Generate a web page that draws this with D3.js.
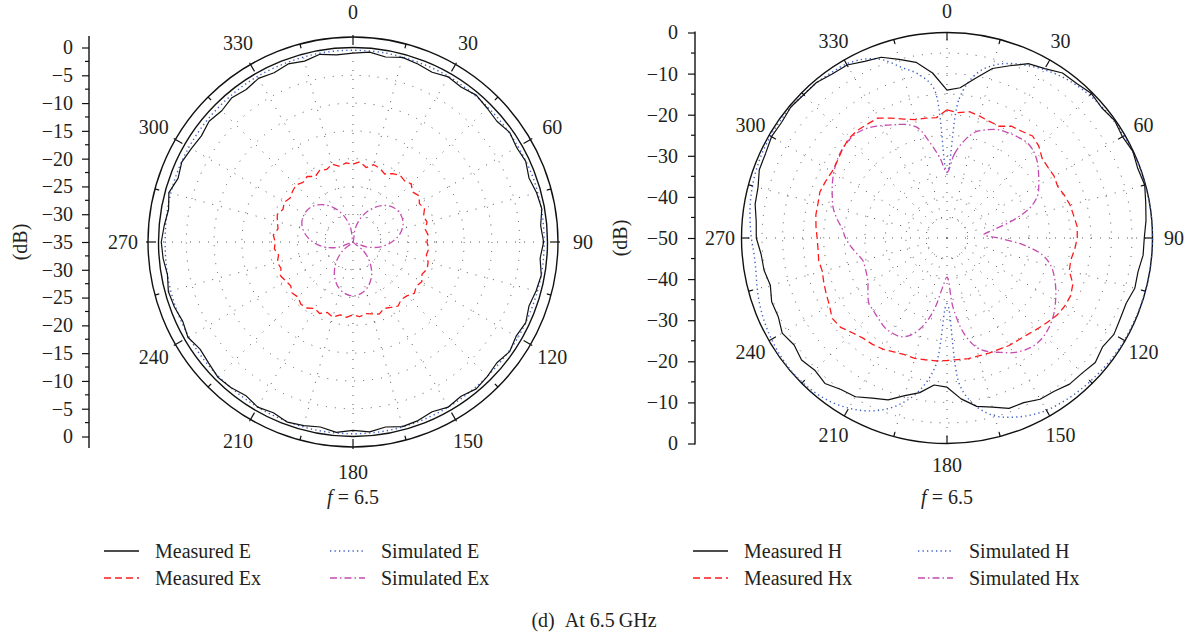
<!DOCTYPE html>
<html>
<head>
<meta charset="utf-8">
<script src="https://cdn.jsdelivr.net/npm/d3@7"></script>
<style>
  body { margin: 0; background: #fff; }
  svg { display: block; }
  text { font-family: "Liberation Serif", "Times New Roman", serif; fill: #231f20; }
</style>
</head>
<body>
<svg id="chart" width="1188" height="633"></svg>
<script>
// ---- angle labels (degrees, clockwise from top) ----
const angleLabels = [0, 30, 60, 90, 120, 150, 180, 210, 240, 270, 300, 330];

// ---- radial (dB) tick labels ----
const eTicks = [0, -5, -10, -15, -20, -25, -30, -35];
const hTicks = [0, -10, -20, -30, -40, -50];

// ---- E-plane, 6.5 GHz (dB) ----
// measured: one sample every 5 degrees
const measuredE = [
  -1.0, -0.7, -1.2, -0.6, -0.9, -1.3, -0.7, -1.0, -0.5, -0.9, -1.2, -0.6,
  -1.0, -0.7, -1.3, -0.8, -0.5, -1.1, -0.7, -1.2, -0.6, -0.9, -1.3, -0.7,
  -1.1, -0.6, -1.2, -0.8, -0.5, -1.1, -0.7, -1.3, -0.8, -0.6, -1.2, -0.7,
  -1.1, -0.6, -1.2, -0.8, -0.5, -1.1, -0.7, -1.3, -0.8, -0.6, -1.1, -1.4,
  -0.7, -1.2, -0.8, -0.6, -1.1, -0.7, -0.5, -0.9, -1.3, -0.7, -1.5, -1.0,
  -1.4, -1.7, -1.2, -1.6, -1.1, -1.5, -1.0, -1.4, -0.9, -1.3, -0.7, -1.2
];
const measuredEx = [
  -21.0, -20.5, -21.4, -20.6, -20.9, -21.5, -20.8, -20.3, -20.6, -20.2, -21.0, -20.5,
  -21.2, -20.8, -21.5, -21.2, -21.8, -21.4, -21.7, -21.3, -21.6, -21.0, -20.8, -21.3,
  -20.7, -21.1, -20.6, -21.3, -21.5, -20.9, -21.4, -21.8, -21.2, -21.6, -21.9, -21.5,
  -21.9, -21.4, -21.7, -21.0, -21.5, -20.8, -21.2, -20.5, -20.4, -21.0, -20.7, -21.3,
  -21.0, -20.6, -21.2, -20.9, -21.4, -20.8, -21.0, -20.6, -21.3, -20.9, -20.5, -21.1,
  -20.7, -21.2, -20.8, -20.5, -21.0, -20.6, -21.4, -20.8, -21.1, -20.5, -21.2, -20.7
];
// simulated: one sample every 10 degrees
const simulatedE = [
  -0.5, -0.5, -0.6, -0.6, -0.7, -0.7, -0.7, -0.6, -0.6, -0.6, -0.6, -0.7,
  -0.7, -0.8, -0.8, -0.7, -0.6, -0.5, -0.5, -0.5, -0.6, -0.7, -0.8, -0.8,
  -0.9, -1.0, -1.1, -1.2, -1.1, -1.0, -0.9, -0.8, -0.7, -0.6, -0.6, -0.5
];
const simulatedEx = [
  -35.0, -32.4, -30.0, -28.0, -26.4, -25.4, -25.1, -25.4, -26.4, -28.0, -30.0, -32.4,
  -35.0, -32.6, -30.3, -28.3, -26.7, -25.7, -25.3, -25.7, -26.7, -28.3, -30.3, -32.6,
  -35.0, -32.3, -29.8, -27.8, -26.2, -25.2, -24.9, -25.2, -26.2, -27.8, -29.8, -32.3
];

// ---- H-plane, 6.5 GHz (dB), one sample every 5 degrees ----
const measuredH = [
  -14.0, -13.3, -10.6, -7.3, -5.4, -3.2, -2.4, -1.0, -0.9, -0.3, -0.8, -0.2,
  -0.7, -0.1, -0.6, -0.2, -0.9, -1.4, -2.0, -2.1, -2.8, -2.7, -3.6, -3.5,
  -3.1, -3.8, -2.9, -3.5, -3.6, -4.5, -4.7, -5.8, -5.9, -7.4, -8.4, -10.7,
  -13.7, -14.1, -11.8, -10.3, -8.1, -7.0, -5.4, -5.0, -3.8, -4.5, -3.8, -4.6,
  -3.7, -4.7, -4.6, -5.5, -4.8, -4.6, -3.6, -3.4, -2.6, -2.4, -1.4, -1.3,
  -0.7, -0.9, -0.4, -0.7, -0.6, -1.3, -1.4, -2.6, -3.2, -5.0, -6.6, -9.7
];
const measuredHx = [
  -18.8, -19.4, -18.8, -19.3, -19.8, -20.0, -18.6, -18.3, -17.6, -18.4, -19.8, -20.0,
  -19.9, -20.3, -19.6, -19.0, -18.7, -18.2, -18.3, -18.8, -19.4, -19.2, -17.4, -16.8,
  -16.9, -17.3, -18.1, -18.8, -19.4, -19.7, -19.8, -20.1, -20.2, -20.3, -20.2, -20.3,
  -20.2, -20.0, -19.9, -19.7, -19.8, -19.4, -18.8, -18.4, -18.2, -17.4, -16.2, -15.9,
  -17.0, -17.6, -18.1, -18.6, -18.3, -18.5, -18.4, -18.0, -17.6, -17.5, -17.1, -17.4,
  -17.7, -17.4, -16.7, -16.0, -15.9, -16.2, -16.3, -17.8, -19.2, -20.2, -20.4, -20.6
];
const simulatedH = [
  -34.0, -16.0, -9.5, -6.5, -4.8, -3.7, -2.7, -1.9, -1.3, -0.9, -0.6, -0.4,
  -0.3, -0.2, -0.1, -0.1, 0.0, 0.0, 0.0, 0.0, 0.0, -0.1, -0.1, -0.2,
  -0.2, -0.3, -0.5, -0.7, -0.9, -1.2, -1.6, -2.4, -3.6, -5.2, -8.3, -14.0,
  -34.0, -19.0, -12.5, -8.5, -5.6, -3.6, -2.2, -1.2, -0.6, -0.3, -0.2, -0.4,
  -0.7, -1.1, -1.6, -2.2, -2.8, -2.9, -2.4, -1.9, -1.4, -1.0, -0.7, -0.5,
  -0.4, -0.4, -0.5, -0.6, -0.7, -0.9, -1.1, -2.0, -3.8, -7.0, -9.5, -13.5
];
const simulatedHx = [
  -34.0, -29.5, -26.0, -23.3, -22.0, -20.9, -20.4, -20.0, -19.7, -20.2, -21.3, -22.8,
  -24.2, -25.7, -28.5, -33.4, -38.5, -41.0, -37.5, -31.5, -26.5, -23.8, -22.2, -20.8,
  -19.5, -18.2, -17.2, -16.5, -16.3, -16.8, -17.8, -19.3, -20.6, -22.5, -26.5, -33.0,
  -40.5, -38.0, -32.5, -28.0, -25.0, -23.5, -23.3, -23.5, -24.2, -24.8, -25.2, -26.5,
  -27.8, -28.5, -28.8, -28.8, -27.8, -26.5, -25.3, -24.4, -22.8, -21.3, -20.3, -19.2,
  -18.2, -17.3, -16.6, -16.3, -16.4, -17.2, -18.4, -19.6, -20.6, -22.2, -26.5, -30.5
];

const svg = d3.select("#chart");
const toRad = Math.PI / 180;
const dbFormat = d3.format("d");
const FONT = 20;

const styles = {
  measured:   { stroke: "#111", width: 1.2, dash: null },
  measuredX:  { stroke: "#ff1a1a", width: 1.3, dash: "7,4" },
  simulated:  { stroke: "#3d5fc4", width: 1.4, dash: "1.3,3.2" },
  simulatedX: { stroke: "#c54bb0", width: 1.3, dash: "7,3,1.5,3" }
};

function polarChart(opt) {
  const g = svg.append("g");
  const { cx, cy, radius, minDb } = opt;
  const r = d3.scaleLinear().domain([minDb, 0]).range([0, radius]).clamp(true);
  const plot = g.append("g").attr("transform", `translate(${cx},${cy})`);

  // sparse dotted grid: circles and spokes
  const gridLevels = d3.range(minDb + opt.gridStep, 0, opt.gridStep);
  const innerR = r(minDb + opt.gridStep);
  plot.selectAll("circle.grid").data(gridLevels).join("circle")
    .attr("class", "grid").attr("r", d => r(d))
    .attr("fill", "none").attr("stroke", "#444").attr("stroke-width", 0.9)
    .attr("stroke-dasharray", "1,8");
  const spokes = d3.range(0, 360, 15);
  plot.selectAll("line.spoke").data(spokes).join("line")
    .attr("class", "spoke")
    .attr("x1", d => (d % 90 === 0 ? 0 : innerR) * Math.sin(d * toRad))
    .attr("y1", d => -(d % 90 === 0 ? 0 : innerR) * Math.cos(d * toRad))
    .attr("x2", d => radius * Math.sin(d * toRad))
    .attr("y2", d => -radius * Math.cos(d * toRad))
    .attr("stroke", "#444").attr("stroke-width", 0.9).attr("stroke-dasharray", "1,8");

  // frame circles
  plot.append("circle").attr("r", radius).attr("fill", "none")
    .attr("stroke", "#111").attr("stroke-width", 1.4);
  if (opt.ring) {
    plot.append("circle").attr("r", opt.ring).attr("fill", "none")
      .attr("stroke", "#111").attr("stroke-width", 1.4);
  }
  const tickR = opt.ring || radius;
  const outR = d => tickR + (d % 30 === 0 ? opt.tickOut : 0);
  const inR = d => tickR - (d % 30 === 0 ? opt.tickIn : opt.tickIn * 0.55);
  plot.selectAll("line.atick").data(spokes).join("line")
    .attr("class", "atick")
    .attr("x1", d => outR(d) * Math.sin(d * toRad))
    .attr("y1", d => -outR(d) * Math.cos(d * toRad))
    .attr("x2", d => inR(d) * Math.sin(d * toRad))
    .attr("y2", d => -inR(d) * Math.cos(d * toRad))
    .attr("stroke", "#111").attr("stroke-width", 1.2);

  // angle labels
  plot.selectAll("text.alab").data(angleLabels).join("text")
    .attr("class", "alab")
    .attr("x", d => opt.labelR * Math.sin(d * toRad))
    .attr("y", d => -opt.labelR * Math.cos(d * toRad))
    .attr("text-anchor", "middle").attr("dominant-baseline", "central")
    .attr("font-size", FONT)
    .text(d => d);

  // series
  opt.series.forEach(s => {
    const step = 360 / s.values.length;
    const line = d3.lineRadial()
      .angle((d, i) => i * step * toRad)
      .radius(d => r(d))
      .curve(s.smooth ? d3.curveCatmullRomClosed.alpha(0.5) : d3.curveLinearClosed);
    const st = styles[s.style];
    plot.append("path").datum(s.values)
      .attr("d", line)
      .attr("fill", "none")
      .attr("stroke", st.stroke)
      .attr("stroke-width", st.width)
      .attr("stroke-linejoin", "round")
      .attr("stroke-dasharray", st.dash);
  });

  // radial dB axis on the left, mirrored above and below the centre
  const extent = opt.ring || radius;
  const yTop = d3.scaleLinear().domain([minDb, 0]).range([cy, cy - radius]);
  const yBot = d3.scaleLinear().domain([minDb, 0]).range([cy, cy + radius]);
  const axisG = g.append("g").attr("transform", `translate(${opt.axisX},0)`);
  const major = opt.ticks;
  const minor = d3.range(minDb, 0.001, opt.minorStep).filter(v => !major.includes(v));
  [yTop, yBot].forEach((y, k) => {
    const ax = axisG.append("g")
      .call(d3.axisLeft(y)
        .tickValues(k === 0 ? major : major.filter(v => v !== minDb))
        .tickSize(7).tickPadding(opt.tickPad)
        .tickFormat(dbFormat));
    ax.select(".domain").remove();
    ax.selectAll(".tick line").attr("stroke", "#111").attr("stroke-width", 1.2);
    ax.selectAll(".tick text").attr("font-size", FONT)
      .attr("font-family", "Liberation Serif, Times New Roman, serif").attr("fill", "#231f20");
    axisG.append("g").selectAll("line").data(minor).join("line")
      .attr("x1", -4).attr("x2", 0)
      .attr("y1", d => y(d)).attr("y2", d => y(d))
      .attr("stroke", "#111").attr("stroke-width", 1.2);
  });
  axisG.append("line").attr("x1", 0).attr("x2", 0)
    .attr("y1", cy - extent - 1).attr("y2", cy + extent + 1)
    .attr("stroke", "#111").attr("stroke-width", 1.4);

  g.append("text")
    .attr("transform", `translate(${opt.unitX},${cy}) rotate(-90)`)
    .attr("text-anchor", "middle").attr("dominant-baseline", "central")
    .attr("font-size", FONT).text("(dB)");

  // frequency note
  const fq = g.append("text").attr("x", cx).attr("y", 504)
    .attr("text-anchor", "middle").attr("font-size", FONT);
  fq.append("tspan").attr("font-style", "italic").text("f");
  fq.append("tspan").text(" = 6.5");

  // legend
  const leg = g.append("g");
  opt.legend.forEach((item, i) => {
    const col = i % 2, row = Math.floor(i / 2);
    const x0 = opt.legendX[col], y0 = 551 + row * 27;
    const st = styles[item.style];
    leg.append("line").attr("x1", x0).attr("x2", x0 + 35)
      .attr("y1", y0).attr("y2", y0)
      .attr("stroke", st.stroke).attr("stroke-width", st.width + 0.2)
      .attr("stroke-dasharray", st.dash);
    leg.append("text").attr("x", x0 + 51).attr("y", y0)
      .attr("dominant-baseline", "central").attr("font-size", FONT)
      .text(item.label);
  });
}

polarChart({
  cx: 353, cy: 242, radius: 194.5, ring: 205, minDb: -35, gridStep: 5,
  ticks: eTicks, minorStep: 2.5, axisX: 89, unitX: 20, tickPad: 9,
  labelR: 230, tickIn: 8, tickOut: 2,
  series: [
    { values: simulatedE, style: "simulated", smooth: true },
    { values: measuredE, style: "measured", smooth: false },
    { values: simulatedEx, style: "simulatedX", smooth: true },
    { values: measuredEx, style: "measuredX", smooth: false }
  ],
  legendX: [104, 330],
  legend: [
    { label: "Measured E", style: "measured" },
    { label: "Simulated E", style: "simulated" },
    { label: "Measured Ex", style: "measuredX" },
    { label: "Simulated Ex", style: "simulatedX" }
  ]
});

polarChart({
  cx: 947, cy: 238, radius: 205.5, ring: null, minDb: -50, gridStep: 5,
  ticks: hTicks, minorStep: 5, axisX: 695, unitX: 620, tickPad: 10,
  labelR: 227, tickIn: 8, tickOut: 0,
  series: [
    { values: simulatedH, style: "simulated", smooth: true },
    { values: measuredH, style: "measured", smooth: false },
    { values: simulatedHx, style: "simulatedX", smooth: true },
    { values: measuredHx, style: "measuredX", smooth: false }
  ],
  legendX: [693, 918],
  legend: [
    { label: "Measured H", style: "measured" },
    { label: "Simulated H", style: "simulated" },
    { label: "Measured Hx", style: "measuredX" },
    { label: "Simulated Hx", style: "simulatedX" }
  ]
});

svg.append("text").attr("x", 594).attr("y", 620)
  .attr("text-anchor", "middle").attr("dominant-baseline", "central")
  .attr("font-size", FONT)
  .text("(d)\u00a0\u00a0At 6.5\u2009GHz");
</script>
</body>
</html>
